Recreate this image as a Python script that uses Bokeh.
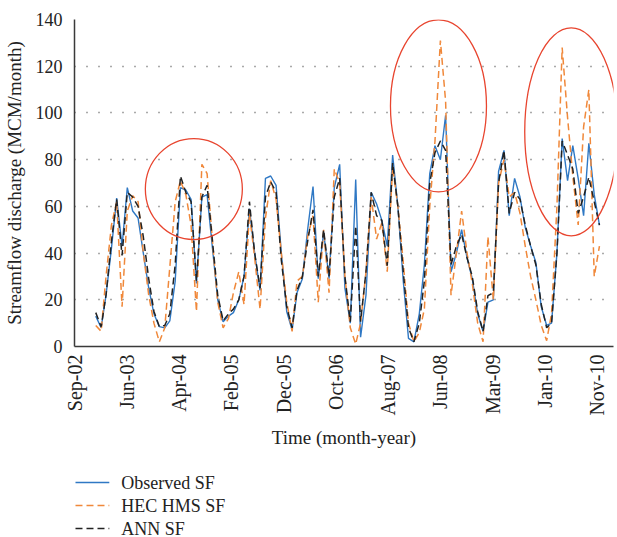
from datetime import datetime
from bokeh.plotting import figure
from bokeh.layouts import column
from bokeh.models import FixedTicker, DatetimeTickFormatter, Range1d, ColumnDataSource
from bokeh.core.properties import value
from bokeh.embed import file_html
from bokeh.resources import INLINE

# ---------------- data ----------------
first_month = (2003, 1)   # January 2003, monthly series
n_months = 96
observed_sf = [13, 8, 22, 42, 63.5, 43, 68, 58, 55, 40, 25, 14,
               8.5, 8, 11, 28, 68, 67, 63, 27, 64, 65, 42, 20,
               10.6, 13, 14.5, 20, 30, 59, 40, 24, 72, 73, 69, 40,
               15, 7, 23, 29, 50, 68.5, 29, 49, 29, 68, 78, 25,
               10, 71.5, 4, 22, 66, 61, 54, 43, 82, 60, 28, 3.5,
               2, 14, 35, 74, 86, 80, 99, 32, 40, 50, 38, 29,
               14, 6.4, 19, 20, 75, 84, 56, 72, 64, 51, 43, 36,
               17, 9, 10, 40, 89, 71, 86, 72, 56, 87, 65, 52]
hec_hms_sf = [9, 6.5, 30, 52, 62, 17, 58, 64.5, 62, 40, 22, 10,
              2, 8, 34, 62, 71, 65, 52, 15, 78, 74, 45, 19,
              8, 12, 23, 32, 18, 57, 38, 16, 55, 71, 63, 40,
              19, 6.5, 28, 30, 47, 56, 19, 50, 23, 76, 70, 30,
              8, 1, 10, 32, 64, 46, 53, 32, 77, 60, 36, 10,
              2, 6, 16, 60, 88, 131, 105, 22, 40, 58, 40, 27,
              10, 2, 47, 20, 70, 80, 64, 66, 57, 43, 30, 20,
              9, 2.5, 14, 60, 128, 98, 73, 52, 94, 110, 30, 43]
ann_sf = [14.5, 8.5, 22, 45, 63, 39, 66, 64, 60, 47, 29, 15,
          8.5, 9, 14, 35, 73, 66, 62, 28, 64, 69, 45, 22,
          11, 14, 16, 20, 30, 62, 40, 25, 64, 70.5, 66, 37,
          17, 8, 24, 30, 45, 58.5, 30, 50, 30, 64, 72, 30,
          10.6, 51.6, 10.6, 32, 66, 56, 54, 34.6, 78.6, 60, 32, 8,
          2, 10, 28, 70, 83, 88, 84, 35, 43, 48, 38, 30,
          15, 6.4, 21.8, 23, 70, 84, 57, 66, 63, 52, 43, 35,
          18, 8, 10, 40, 88, 82, 76, 57, 64, 72.5, 62, 52]
series_names = ["Observed SF", "HEC HMS SF", "ANN SF"]

tick_dates = ["2002-09-01", "2003-06-28", "2004-04-23", "2005-02-17", "2005-12-14",
              "2006-10-10", "2007-08-06", "2008-06-01", "2009-03-28", "2010-01-22", "2010-11-18"]
y_ticks = [0, 20, 40, 60, 80, 100, 120, 140]

# highlighted regions (red ellipses)
circle_dates = ["2004-07-17", "2008-05-21", "2010-06-22"]
circle_values = [67.4, 103, 91.9]
circle_w_px = [97, 96, 93]
circle_h_px = [101, 172, 208]

# ---------------- styles ----------------
FONT = "Liberation Serif"
styles = [dict(line_color="#2f78c4", line_width=1.4),
          dict(line_color="#f0883a", line_width=1.5, line_dash="7 4"),
          dict(line_color="#222222", line_width=1.5, line_dash="7 4")]

# ---------------- build ----------------
y0, m0 = first_month
months = [datetime(y0 + (m0 - 1 + i) // 12, (m0 - 1 + i) % 12 + 1, 1) for i in range(n_months)]
src = ColumnDataSource(dict(t=months, obs=observed_sf, hec=hec_hms_sf, ann=ann_sf))

def ms(s):
    return datetime.strptime(s, "%Y-%m-%d").timestamp() * 1000.0

x_start = ms(tick_dates[0])
x_end = x_start + 3093.6 * 86400000.0

p = figure(width=617, height=450, x_axis_type="datetime", output_backend="svg",
           toolbar_location=None, x_range=Range1d(x_start, x_end), y_range=Range1d(0, 140),
           min_border_left=71, min_border_right=4, min_border_top=19, min_border_bottom=102)
p.outline_line_color = None
p.background_fill_color = "white"
p.border_fill_color = "white"

for col, st in zip(["obs", "hec", "ann"], styles):
    p.line("t", col, source=src, **st)

circ = ColumnDataSource(dict(x=[datetime.strptime(d, "%Y-%m-%d") for d in circle_dates],
                             y=circle_values, w=circle_w_px, h=circle_h_px))
p.ellipse("x", "y", width="w", height="h", source=circ, width_units="screen",
          height_units="screen", fill_color=None, line_color="#e8452f", line_width=1.3)

# axes
p.xaxis.ticker = FixedTicker(ticks=[ms(d) for d in tick_dates])
p.xaxis.formatter = DatetimeTickFormatter(days="%b-%y", months="%b-%y", years="%b-%y", context=None)
p.xaxis.major_label_orientation = 3.14159265 / 2
p.yaxis.ticker = FixedTicker(ticks=y_ticks)

for ax in (p.xaxis[0], p.yaxis[0]):
    ax.major_tick_line_color = None
    ax.minor_tick_line_color = None
    ax.major_tick_out = 0
    ax.major_tick_in = 0
    ax.axis_line_color = "#3a3a3a"
    ax.axis_line_width = 1.5
    ax.major_label_text_font = FONT
    ax.major_label_text_font_size = "18px"
    ax.major_label_text_color = "#222222"
    ax.axis_label_text_font = FONT
    ax.axis_label_text_font_size = "19px"
    ax.axis_label_text_font_style = "normal"
    ax.axis_label_text_color = "#222222"

p.xaxis.major_label_text_font_size = "20px"
p.xaxis.axis_label = "Time (month-year)"
p.yaxis.axis_label = "Streamflow discharge (MCM/month)"
p.xaxis.major_label_standoff = 8
p.xaxis.axis_label_standoff = 8
p.yaxis.major_label_standoff = 12
p.yaxis.axis_label_standoff = 8

p.xgrid.grid_line_color = None
p.ygrid.grid_line_color = "#555555"
p.ygrid.grid_line_dash = "1 11"
p.ygrid.grid_line_width = 1.3

# ---------------- legend strip below the chart ----------------
# its frame is aligned with the chart frame (x 71..613 on the page), y runs downward
LEG_H = 87
leg_fig = figure(width=617, height=LEG_H, x_range=Range1d(71, 613), y_range=Range1d(LEG_H, 0),
                 output_backend="svg", toolbar_location=None,
                 x_axis_location=None, y_axis_location=None,
                 min_border_left=71, min_border_right=4, min_border_top=0, min_border_bottom=0)
leg_fig.outline_line_color = None
leg_fig.xgrid.visible = False
leg_fig.ygrid.visible = False
row_y = [32, 55, 78]
swatch_x0, swatch_x1, text_x = 72, 106, 118
for name, st, yy in zip(series_names, styles, row_y):
    leg_fig.segment(x0=[swatch_x0], y0=[yy], x1=[swatch_x1], y1=[yy], **st)
leg_fig.text(x=[text_x] * 3, y=row_y, text=series_names, text_font=value(FONT),
             text_font_size="18px", text_color="#222222", text_baseline="middle",
             text_align="left")

layout = column(p, leg_fig, spacing=0)
open("out.html", "w").write(file_html(layout, INLINE))
